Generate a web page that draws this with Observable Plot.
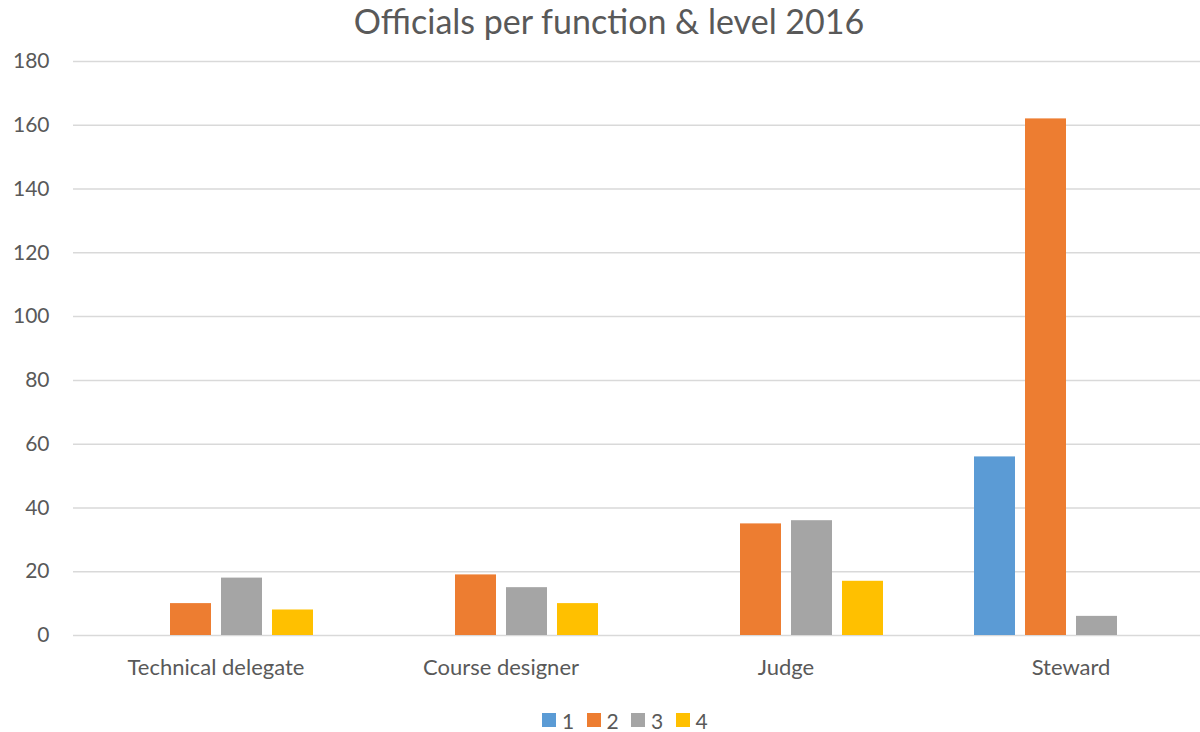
<!DOCTYPE html>
<html>
<head>
<meta charset="utf-8">
<script src="https://cdn.jsdelivr.net/npm/d3@7"></script>
<script src="https://cdn.jsdelivr.net/npm/@observablehq/plot@0.6"></script>
<style>
  html, body { margin: 0; padding: 0; background: #fff; }
  body { width: 1200px; height: 732px; overflow: hidden; font-family: Lato, "Open Sans", sans-serif; color: #595959; }
  #title { height: 45px; line-height: 42px; text-align: center; font-size: 34px; padding-left: 18px; box-sizing: border-box; white-space: nowrap; }
  #chart { width: 1200px; height: 645px; overflow: hidden; }
  #chart svg { max-width: none !important; }
  #legend { display: flex; margin-left: 542px; height: 60px; align-items: center; font-size: 21px; }
  .item { display: flex; align-items: center; width: 44.5px; }
  .sw { width: 14px; height: 14px; margin-right: 6px; flex: none; }
</style>
</head>
<body>
<div id="title">Officials per function &amp; level 2016</div>
<div id="chart"></div>
<div id="legend"></div>
<script>
const functions = ["Technical delegate", "Course designer", "Judge", "Steward"];
const levels = ["1", "2", "3", "4"];
const level1 = [0, 0, 0, 56];
const level2 = [10, 19, 35, 162];
const level3 = [18, 15, 36, 6];
const level4 = [8, 10, 17, 0];
const colors = ["#5B9BD5", "#ED7D31", "#A5A5A5", "#FFC000"];
const yTicks = [0, 20, 40, 60, 80, 100, 120, 140, 160, 180];

const series = [level1, level2, level3, level4];
const rows = [];
functions.forEach((f, i) => {
  levels.forEach((l, j) => {
    rows.push({ func: f, level: l, value: series[j][i] });
  });
});

const chart = Plot.plot({
  width: 1214,
  height: 645,
  marginLeft: 72,
  marginRight: 0,
  marginTop: 16,
  marginBottom: 55,
  style: { fontFamily: "Lato, 'Open Sans', sans-serif", color: "#595959", background: "#fff", maxWidth: "none" },
  fx: { domain: functions, padding: 0, label: null },
  x: { domain: levels, paddingInner: 0.2, paddingOuter: 0.87, axis: null },
  y: { domain: [0, 180], label: null },
  color: { domain: levels, range: colors },
  marks: [
    Plot.ruleY(yTicks, { stroke: "#d9d9d9", strokeWidth: 1.5 }),
    Plot.barY(rows.filter(d => d.value > 0), { fx: "func", x: "level", y: "value", fill: "level" }),
    Plot.axisY(yTicks, { tickSize: 0, tickPadding: 24, fontSize: 21, fill: "#595959", label: null }),
    Plot.axisFx({ anchor: "bottom", tickSize: 0, tickPadding: 24, fontSize: 22, fill: "#595959", label: null })
  ]
});
document.getElementById("chart").appendChild(chart);

const legend = document.getElementById("legend");
levels.forEach((l, i) => {
  const item = document.createElement("div");
  item.className = "item";
  const sw = document.createElement("div");
  sw.className = "sw";
  sw.style.background = colors[i];
  const t = document.createElement("span");
  t.textContent = l;
  item.appendChild(sw);
  item.appendChild(t);
  legend.appendChild(item);
});
</script>
</body>
</html>
